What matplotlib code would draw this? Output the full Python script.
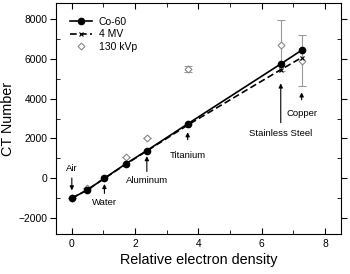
import matplotlib
matplotlib.use("Agg")
import matplotlib.pyplot as plt
from matplotlib.ticker import MultipleLocator
from matplotlib.lines import Line2D

plt.rcParams['font.family'] = ['Liberation Sans', 'DejaVu Sans']

# relative electron density of the inserts
density = [0.0, 0.47, 1.03, 1.72, 2.37, 3.66, 6.60, 7.26]
co60 = [-1000, -610, 0, 740, 1390, 2730, 5740, 6430]
mv4 = [-1000, -600, -10, 720, 1370, 2670, 5450, 6060]

kvp_density = [0.0, 0.47, 1.72, 2.37, 3.66, 6.60, 7.26]
kvp130 = [-1000, -480, 1090, 2040, 5500, 6680, 5900]
kvp_err = [0, 0, 0, 0, 150, 1270, 1270]

labels = ["Air", "Water", "Aluminum", "Titanium", "Stainless Steel", "Copper"]
label_x = [0.0, 1.03, 2.37, 3.66, 6.60, 7.26]
label_y = [250, -1000, 100, 1350, 2450, 3500]
arrow_from = [150, -900, 200, 1800, 2650, 3800]
arrow_to = [-750, -150, 1250, 2450, 4900, 4450]
label_va = ["bottom", "top", "top", "top", "top", "top"]

fig = plt.figure(figsize=(3.5, 2.74), dpi=100)
ax = fig.add_axes([0.16, 0.146, 0.814, 0.843])

ax.errorbar(kvp_density, kvp130, yerr=kvp_err, fmt='D', mfc='white', mec='#888888',
            ms=3.5, mew=0.8, ecolor='#999999', elinewidth=0.8, capsize=3, capthick=0.8,
            zorder=2)
ax.plot(density, mv4, '--', color='black', lw=1.2, marker='x', ms=3.5, mew=0.8,
        dashes=(4, 2), zorder=3)
ax.plot(density, co60, '-', color='black', lw=1.2, marker='o', ms=4.5, zorder=4)

for name, x, y, y0, y1, va in zip(labels, label_x, label_y, arrow_from, arrow_to, label_va):
    ax.text(x, y, name, ha='center', va=va, fontsize=6.8)
    ax.annotate('', xy=(x, y1), xytext=(x, y0),
                arrowprops=dict(arrowstyle='-|>', color='black', lw=0.8, mutation_scale=6))

ax.set_xlim(-0.5, 8.5)
ax.set_ylim(-2800, 8800)
ax.xaxis.set_major_locator(MultipleLocator(2))
ax.xaxis.set_minor_locator(MultipleLocator(1))
ax.yaxis.set_major_locator(MultipleLocator(2000))
ax.yaxis.set_minor_locator(MultipleLocator(1000))
ax.tick_params(which='both', direction='in', top=True, right=True, labelsize=7.4)
ax.tick_params(axis='y', which='major', direction='out', length=4, pad=2)
ax.tick_params(which='major', length=4)
ax.tick_params(which='minor', length=3)

ax.set_xlabel('Relative electron density', fontsize=10.4, labelpad=3)
ax.set_ylabel('CT Number', fontsize=10.4)
ax.yaxis.set_label_coords(-0.145, 0.5)

handles = [
    Line2D([], [], color='black', lw=1.2, marker='o', ms=4.5),
    Line2D([], [], color='black', lw=1.2, ls='--', dashes=(4, 2), marker='x', ms=3.5, mew=0.8),
    Line2D([], [], ls='none', marker='D', mfc='white', mec='#888888', ms=3.5, mew=0.8),
]
ax.legend(handles, ['Co-60', '4 MV', '130 kVp'], loc='upper left',
          frameon=False, fontsize=7.5, handlelength=2.2, borderaxespad=0.9,
          labelspacing=0.25, handletextpad=0.6)

fig.savefig('out.png', dpi=100)
